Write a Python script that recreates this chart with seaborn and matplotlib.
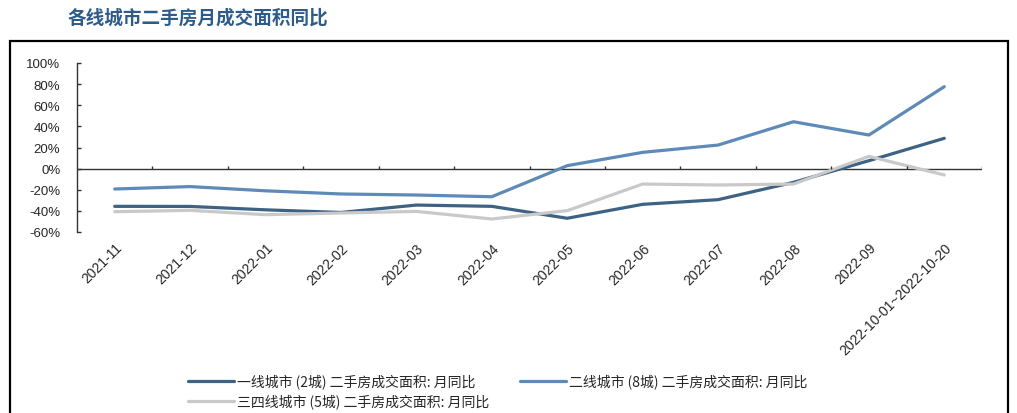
import numpy as np
import pandas as pd
import matplotlib
matplotlib.use("Agg")
import matplotlib.pyplot as plt
import seaborn as sns
from matplotlib.patches import Rectangle
from matplotlib.ticker import FuncFormatter

# ---- data ----
months = ["2021-11", "2021-12", "2022-01", "2022-02", "2022-03", "2022-04",
          "2022-05", "2022-06", "2022-07", "2022-08", "2022-09",
          "2022-10-01~2022-10-20"]
tier1 = [-35.7, -35.8, -39, -41.5, -34.5, -35.7, -47, -33.8, -29.4, -13, 7.5, 28.7]
tier2 = [-19.3, -17, -21, -24, -25, -26.6, 2.8, 15.4, 22.3, 44.4, 31.8, 77.6]
tier34 = [-40.8, -39.5, -43.6, -42, -40.5, -47.7, -39.8, -14.6, -15.5, -14.6, 11.6, -6]
series_names = ["一线城市 (2城) 二手房成交面积: 月同比",
                "二线城市 (8城) 二手房成交面积: 月同比",
                "三四线城市 (5城) 二手房成交面积: 月同比"]
colors = ["#3D6283", "#5E8AB8", "#C9C9C9"]

df = pd.DataFrame({
    "month": months * 3,
    "value": tier1 + tier2 + tier34,
    "series": np.repeat(series_names, len(months)),
})

sns.set_style("white")
plt.rcParams["font.family"] = ["Liberation Sans", "Noto Sans CJK SC", "DejaVu Sans"]

fig = plt.figure(figsize=(10.17, 4.14), dpi=100)
ax = fig.add_axes([77 / 1017, 1 - 233 / 414, (982 - 77) / 1017, (233 - 64) / 414])

sns.lineplot(data=df, x="month", y="value", hue="series", palette=colors,
             linewidth=2.3, sort=False, ax=ax, legend="full")

leg = ax.get_legend()
handles = leg.legend_handles
labels = [t.get_text() for t in leg.texts]
leg.remove()

n = len(months)
ax.set_xlim(-0.5, n - 0.5)
ax.set_ylim(-60, 100)
ax.set_yticks(np.arange(-60, 101, 20))
ax.yaxis.set_major_formatter(FuncFormatter(lambda v, p: f"{v:.0f}%"))
ax.set_xlabel("")
ax.set_ylabel("")

# zero line with category boundary ticks
ax.axhline(0, color="#333333", lw=1.0, zorder=1)
ax.vlines(np.arange(n) + 0.5, 0, 2.8, color="#333333", lw=1.0)

for s in ["top", "right", "bottom"]:
    ax.spines[s].set_visible(False)
ax.spines["left"].set_color("#333333")
ax.spines["left"].set_linewidth(1.0)
ax.tick_params(axis="y", direction="in", length=3, width=1.0, color="#333333",
               labelsize=9.5, pad=12, left=True)
ax.tick_params(axis="x", length=0, labelsize=10, pad=6)
for lab in ax.get_yticklabels():
    lab.set_fontfamily("Liberation Sans")
for lab in ax.get_xticklabels():
    lab.set_rotation(45)
    lab.set_ha("right")
    lab.set_rotation_mode("anchor")
    lab.set_fontfamily("Liberation Sans")

# title
fig.text(68 / 1017, 1 - 18 / 414, "各线城市二手房月成交面积同比", fontsize=13.4,
         fontweight="bold", color="#2E5C8A", va="center", ha="left",
         family=["Noto Sans CJK SC", "DejaVu Sans"])

# outer frame (bottom edge runs off the image)
fig.patches.append(Rectangle((10 / 1017, -0.2), (1008 - 10) / 1017, 0.2 + 1 - 42 / 414,
                             transform=fig.transFigure, fill=False, edgecolor="black",
                             lw=1.6, clip_on=False))

# legend: two per row, third item wraps to the second row (column-major fill)
order = [0, 2, 1]
fig.legend([handles[i] for i in order], [labels[i] for i in order],
           loc="upper left", bbox_to_anchor=(188 / 1017, 1 - 375 / 414),
           ncol=2, frameon=False, handlelength=3.3, columnspacing=2.2,
           handletextpad=0.25, labelspacing=0.35, borderaxespad=0, borderpad=0,
           prop={"family": ["Noto Sans CJK SC", "DejaVu Sans"], "size": 10})

fig.savefig("out.png", dpi=100)
